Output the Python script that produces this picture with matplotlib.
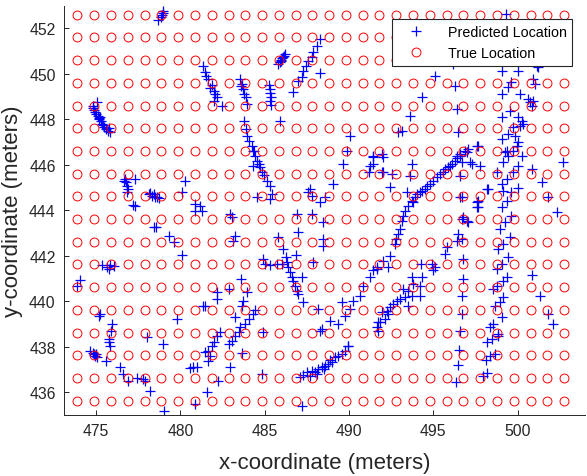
import numpy as np
import matplotlib
matplotlib.use("Agg")
import matplotlib.pyplot as plt

plt.rcParams['font.family'] = ['Liberation Sans', 'DejaVu Sans']

# True location grid (columns / rows)
grid_x = [473.90, 474.90, 475.89, 476.89, 477.88, 478.88, 479.87, 480.87, 481.86, 482.86,
          483.85, 484.85, 485.84, 486.84, 487.83, 488.83, 489.82, 490.82, 491.81, 492.81,
          493.80, 494.80, 495.79, 496.79, 497.78, 498.78, 499.77, 500.77, 501.76, 502.76]
grid_y = [435.63, 436.63, 437.63, 438.62, 439.62, 440.62, 441.62, 442.62, 443.61,
          444.61, 445.61, 446.61, 447.61, 448.60, 449.60, 450.60, 451.60, 452.60]

# Predicted locations (x, y)
pred_pts = [
    (475.05,448.75),(474.85,448.6),(474.8,448.5),(474.9,448.4),(474.95,448.3),(475.0,448.25),
    (475.1,448.15),(475.15,448.05),(475.2,448.0),(475.3,447.9),(475.35,447.8),(475.4,447.75),
    (475.5,447.65),(475.6,447.55),(475.7,447.5),(475.85,447.45),(475.75,447.6),(475.25,448.1),
    (478.95,452.75),(478.9,452.6),(478.85,452.5),(478.7,452.35),(479.0,452.65),
    (481.34,450.36),(481.48,450.07),(481.53,449.92),(481.67,449.77),(481.77,449.36),(481.87,449.51),
    (482.0,449.26),(482.07,449.11),(482.17,448.97),(481.97,448.82),(482.46,448.57),
    (483.56,449.77),(483.6,449.45),(483.65,449.55),(483.74,449.33),(483.8,449.11),(483.88,448.97),(483.95,448.67),
    (485.28,449.51),(485.33,449.33),(485.33,449.14),(485.37,448.97),(485.33,448.82),(485.37,448.63),
    (485.82,450.43),(485.9,450.5),(485.95,450.55),(486.0,450.6),(486.05,450.7),(486.1,450.75),(486.15,450.8),(486.21,450.87),
    (486.7,449.19),(487.0,449.7),(487.2,449.85),(487.3,450.14),(487.46,450.36),(487.6,450.58),(487.8,450.73),
    (487.89,450.95),(488.09,451.24),(488.29,451.53),(488.29,450.04),
    (485.92,447.94),(483.8,447.94),(483.9,447.57),(483.96,447.28),(484.1,447.06),(484.25,446.84),(484.39,446.62),(484.45,446.4),
    (490.07,447.28),(489.87,446.62),(491.45,446.4),
    (484.3,446.62),(484.55,446.18),(484.65,446.04),(484.3,445.96),(484.74,445.89),(484.85,445.67),(484.95,445.55),
    (485.14,445.3),(485.3,445.08),(484.55,444.57),(485.44,444.72),(485.34,444.5),
    (480.29,445.3),(480.1,444.8),(478.45,443.25),
    (480.88,444.28),(481.18,444.2),(480.88,443.98),(481.28,443.98),
    (482.96,443.84),(483.06,443.69),
    (479.3,442.88),(479.6,442.59),(480.1,442.04),
    (483.25,442.86),(483.15,442.66),
    (483.59,440.98),(482.86,440.54),(482.17,440.4),(482.17,440.1),(481.48,439.81),(483.95,440.4),(483.74,440.03),(483.65,439.81),
    (484.45,439.6),(484.31,439.44),(484.06,439.22),(483.86,439.0),(483.56,438.86),(483.46,438.64),(483.26,438.49),
    (483.07,438.27),(482.87,438.12),(483.26,439.3),(479.8,439.22),(478.99,438.12),
    (485.82,442.81),(486.08,442.3),(486.27,441.93),(486.31,441.71),(486.41,441.49),(486.51,441.27),(486.61,441.05),
    (486.71,440.9),(486.8,440.69),(486.91,440.47),(487.0,440.32),(487.2,441.05),(487.3,439.96),(486.87,442.04),(487.89,441.71),
    (484.93,441.86),(485.03,441.64),(485.33,441.57),(485.72,441.64),(486.02,441.64),
    (486.91,443.84),(487.0,443.03),(487.8,443.84),(487.7,444.94),(487.6,444.8),(487.8,444.64),(488.29,444.35),
    (488.58,444.57),(489.04,445.16),(488.48,443.47),(488.48,442.74),(488.48,442.44),(489.67,446.04),(491.25,445.96),
    (491.21,445.67),(491.45,446.33),
    (484.93,438.64),(488.19,439.67),(488.39,438.78),(488.88,439.15),(489.37,439.0),(489.57,439.96),(489.77,439.37),
    (490.07,439.67),(489.97,438.05),(490.26,440.03),(490.66,440.25),(490.85,440.69),(491.25,441.05),(491.65,441.42),(491.74,439.08),
    (476.74,445.38),(476.78,445.23),(476.84,445.08),(476.9,444.94),(476.84,444.79),(476.64,445.3),(477.33,445.38),
    (477.29,444.2),(477.2,444.25),
    (478.12,444.72),(478.32,444.64),(478.51,444.57),(478.41,444.72),(478.22,444.76),(478.71,444.53),(478.6,444.6),
    (478.55,443.25),
    (475.36,441.57),(475.65,441.49),(475.85,441.57),(476.04,441.54),(475.75,441.42),
    (474.07,440.95),(473.87,440.66),(475.25,439.44),(475.15,439.37),(475.95,439.0),(475.9,438.71),
    (481.37,439.78),(478.02,438.42),
    (475.75,438.34),(475.75,438.2),(475.8,438.05),
    (474.66,437.79),(474.86,437.68),(474.96,437.6),(475.06,437.54),(474.8,437.72),(475.0,437.66),
    (475.61,437.39),(476.4,437.1),(476.6,436.8),(476.9,436.51),(477.43,436.61),(477.78,436.58),(477.92,436.51),
    (478.22,436.07),(479.05,435.19),
    (480.59,437.05),(480.78,437.1),(480.98,437.12),(480.88,435.49),
    (482.36,438.64),(482.17,438.49),(481.97,438.2),(481.87,438.05),(481.67,437.83),(481.48,437.76),(481.77,437.6),
    (481.67,437.39),(483.65,437.73),(482.96,437.1),(482.26,436.51),(481.58,436.0),(484.83,436.8),
    (487.1,436.66),(487.3,436.75),(487.5,436.88),(487.7,436.73),(487.8,436.95),(488.0,436.88),(488.19,437.02),
    (488.39,437.1),(488.58,437.17),(488.78,437.24),(488.98,437.31),(489.18,437.54),(489.37,437.61),(489.57,437.68),
    (489.77,437.83),(489.97,438.05),(488.1,436.8),(488.5,437.0),(488.9,437.4),
    (487.2,435.39),(488.29,438.71),(491.74,438.71),
    (496.98,446.55),(496.58,446.4),(496.29,446.18),(495.99,445.96),(495.7,445.82),(495.4,445.6),(495.2,445.45),
    (495.0,445.3),(494.81,445.16),(494.51,444.94),(494.21,444.79),(493.92,444.57),(493.72,444.42),(493.52,444.2),
    (493.32,443.98),(493.22,443.76),(493.13,443.54),(493.03,443.18),(492.93,442.96),(492.79,442.74),(492.73,442.52),
    (497.18,446.1),(496.68,446.1),(495.85,445.9),(495.55,445.7),(494.65,445.05),(494.35,444.85),(494.05,444.7),
    (496.1,446.05),(496.4,446.3),
    (493.72,446.04),(493.62,445.52),(492.54,445.6),(492.43,445.01),(491.94,446.48),(492.04,446.33),(491.45,446.04),
    (491.94,445.67),(493.42,444.79),(493.82,444.35),
    (492.43,442.0),(492.04,441.78),(491.65,441.49),(491.45,441.35),(492.34,441.49),(494.3,441.64),(494.9,441.64),
    (495.1,441.49),(495.0,441.35),(495.79,442.37),(495.69,442.08),(496.48,442.96),(496.38,442.66),(496.68,442.74),
    (496.78,441.86),(496.78,440.98),(496.68,440.25),(496.68,439.44),(496.58,438.71),(496.68,444.57),(496.78,443.69),
    (496.98,443.54),(497.57,444.35),
    (493.72,441.05),(494.31,441.05),(494.21,440.69),(493.82,440.76),(493.22,440.54),(493.52,440.47),(493.72,440.25),
    (494.21,440.25),(493.32,440.18),(493.03,440.1),(492.83,440.03),(492.63,439.88),(492.43,439.74),(492.24,439.59),
    (491.94,439.52),(492.34,439.44),(492.14,439.22),(491.84,439.08),(491.65,438.86),(493.52,439.81),
    (499.25,446.55),(499.45,446.4),(499.74,446.62),(500.24,446.4),(499.15,446.1),(497.77,445.96),(497.27,446.04),
    (498.76,445.67),(499.74,445.67),(500.04,445.96),(500.83,445.82),(502.7,446.14),(501.42,445.23),(499.35,445.38),
    (499.05,445.16),(499.15,444.86),(500.04,444.97),(499.64,444.79),(498.26,444.94),(497.67,444.42),(497.57,444.13),
    (499.35,444.42),(499.05,444.13),(501.81,444.57),(502.35,443.94),(499.64,443.76),(499.25,443.47),(498.95,443.18),
    (499.54,442.81),(499.15,442.52),(498.85,442.3),(499.45,441.93),(499.05,441.64),(498.76,441.42),(499.35,441.05),
    (499.15,440.9),(498.76,440.69),(498.56,440.54),(499.15,440.18),(498.95,439.96),(498.66,439.81),(499.05,439.3),
    (498.56,439.0),(498.36,438.86),(498.85,438.56),(500.83,441.13),(501.32,440.25),(501.81,439.44),(502.11,439.0),
    (496.54,437.87),(496.44,437.2),(496.35,436.47),(498.16,438.2),(498.46,438.34),(498.85,438.49),(498.66,437.68),
    (498.36,437.6),(498.12,437.42),(498.2,436.84),(497.93,436.73),
    (499.31,452.63),(495.1,449.89),(494.31,448.97),(493.62,448.13),(492.93,447.43),(493.13,447.5),(496.29,449.45),
    (496.43,448.45),(496.48,447.43),(496.15,450.43),(496.88,446.62),(497.07,446.69),(497.57,446.84),(496.58,446.48),
    (499.05,450.14),(500.04,450.11),(501.13,450.36),(501.22,450.28),(499.64,449.63),(499.44,449.41),(500.93,449.77),
    (501.03,449.55),(499.05,449.11),(500.14,449.11),(500.63,448.89),(500.73,448.75),(500.83,448.6),(500.93,448.82),
    (499.54,448.38),(499.05,448.09),(500.04,448.09),(500.24,447.94),(500.34,447.79),(500.14,447.72),(499.74,447.65),
    (499.45,447.35),(499.84,447.28),(499.05,447.13),(500.04,446.99),(499.94,446.84),(499.35,446.62),(497.67,446.84),
    (496.38,446.4),
    (498.16,444.94),(496.58,445.52),(496.58,444.57),(497.67,444.13),(496.68,443.62),(497.07,443.47),(492.04,445.67),
]
pred_x = [p[0] for p in pred_pts]
pred_y = [p[1] for p in pred_pts]

x_ticks = [475, 480, 485, 490, 495, 500]
y_ticks = [436, 438, 440, 442, 444, 446, 448, 450, 452]

dark = (0.15, 0.15, 0.15)

fig = plt.figure(figsize=(5.87, 4.77), dpi=100)
ax = fig.add_axes([0.109, 0.128, 0.8876, 0.857])

ax.plot(pred_x, pred_y, linestyle='none', marker='+', color='b', markersize=7, markeredgewidth=0.9,
        label='Predicted Location')
gx, gy = np.meshgrid(grid_x, grid_y)
ax.plot(gx.ravel(), gy.ravel(), linestyle='none', marker='o', markerfacecolor='none',
        markeredgecolor='r', markersize=6.4, markeredgewidth=0.7, label='True Location')

ax.set_xlim(473.1, 504.0)
ax.set_ylim(435.0, 452.97)
ax.set_xticks(x_ticks)
ax.set_yticks(y_ticks)
ax.tick_params(direction='in', length=3.5, width=0.7, colors=dark, labelsize=11.3, pad=6)
for s in ['top', 'right']:
    ax.spines[s].set_visible(False)
for s in ['left', 'bottom']:
    ax.spines[s].set_color(dark)
    ax.spines[s].set_linewidth(0.7)

ax.set_xlabel('x-coordinate (meters)', fontsize=16, color=dark, labelpad=10)
ax.set_ylabel('y-coordinate (meters)', fontsize=16, color=dark, labelpad=4)

leg = ax.legend(loc='upper right', bbox_to_anchor=(0.976, 0.969), borderaxespad=0, fontsize=10.3,
                frameon=True, fancybox=False, framealpha=1, edgecolor=dark, handlelength=2.6,
                handletextpad=0.9, labelspacing=0.55, borderpad=0.4)
leg.get_frame().set_linewidth(0.8)
for t in leg.get_texts():
    t.set_color('black')

fig.savefig('out.png', dpi=100)
